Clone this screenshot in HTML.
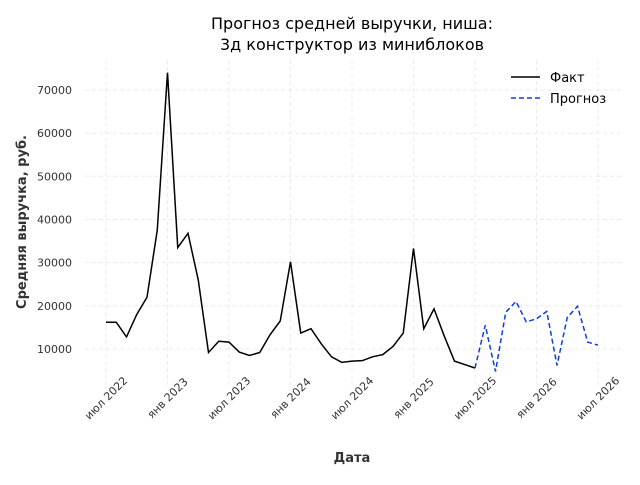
<!DOCTYPE html>
<html><head><meta charset="utf-8"><style>body{margin:0;background:#fff}svg{font-family:"DejaVu Sans","Liberation Sans",sans-serif}</style></head>
<body>
<svg id="c" width="640" height="480" xmlns="http://www.w3.org/2000/svg">
<text x="352" y="29" font-size="16" text-anchor="middle" fill="#000"><tspan x="352">Прогноз средней выручки, ниша:</tspan><tspan x="352" dy="21">3д конструктор из миниблоков</tspan></text>
<text x="352" y="462" font-size="13" font-weight="bold" text-anchor="middle" fill="#333">Дата</text>
<text transform="translate(26,222) rotate(-90)" font-size="13" font-weight="bold" text-anchor="middle" fill="#333">Средняя выручка, руб.</text>
<g id="grid"></g><g id="ticks"></g><g id="series"></g>
<g>
<line x1="511" y1="77" x2="540" y2="77" stroke="#000" stroke-width="1.5"/>
<text x="550" y="82" font-size="13" fill="#000">Факт</text>
<line x1="511" y1="98" x2="540" y2="98" stroke="#0a3fe6" stroke-width="1.5" stroke-dasharray="5,3"/>
<text x="550" y="103" font-size="13" fill="#000">Прогноз</text>
</g>
</svg>
<script>
const factValues=[16200,16200,12800,18000,22000,37500,74000,33500,36800,26000,9200,11800,11600,9300,8500,9200,13300,16500,30200,13700,14700,11200,8200,6900,7200,7300,8200,8700,10600,13700,33300,14700,19300,13000,7200,6400,5600];
const forecastValues=[5600,15500,4800,18500,21000,16300,17000,18700,6200,17300,19900,11600,10900];
const yTicks=[10000,20000,30000,40000,50000,60000,70000];
const xTickLabels=["июл 2022","янв 2023","июл 2023","янв 2024","июл 2024","янв 2025","июл 2025","янв 2026","июл 2026"];
const NS="http://www.w3.org/2000/svg";
const x=i=>106+i*10.25;
const y=v=>392.2-v*0.004318;
function mk(t,a,p){const e=document.createElementNS(NS,t);for(const k in a)e.setAttribute(k,a[k]);p.appendChild(e);return e;}
const grid=document.getElementById('grid'),ticks=document.getElementById('ticks'),ser=document.getElementById('series');
yTicks.forEach(v=>{
 const l=mk('line',{x1:85,x2:622,y1:y(v),y2:y(v),stroke:'#ebebeb','stroke-dasharray':'4,3'},grid);
 
 
 const t=mk('text',{x:72,y:y(v)+4,'font-size':11,'text-anchor':'end',fill:'#333'},ticks);t.textContent=v;
 
 
});
xTickLabels.forEach((s,i)=>{
 const xx=x(i*6);
 const l=mk('line',{x1:xx,x2:xx,y1:60,y2:385,stroke:'#ebebeb','stroke-dasharray':'4,3'},grid);
 
 
 const t=mk('text',{transform:`translate(${xx},${398}) rotate(-45)`,'font-size':11,'text-anchor':'middle',dy:'0.35em',fill:'#333'},ticks);t.textContent=s;
 
 
});
const p1=mk('polyline',{points:factValues.map((v,i)=>x(i)+','+y(v)).join(' '),fill:'none',stroke:'#000','stroke-width':1.5},ser);


const off=factValues.length-1;
const p2=mk('polyline',{points:forecastValues.map((v,i)=>x(i+off)+','+y(v)).join(' '),fill:'none',stroke:'#0a3fe6','stroke-width':1.5,'stroke-dasharray':'5,3'},ser);


</script>
</body></html>
